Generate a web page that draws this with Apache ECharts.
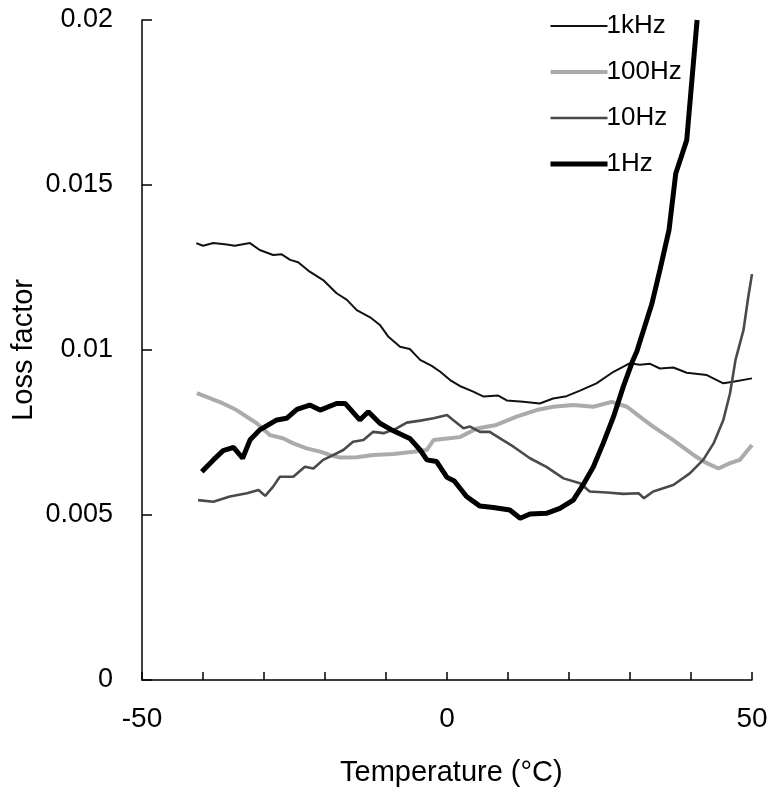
<!DOCTYPE html>
<html><head><meta charset="utf-8">
<script src="https://cdn.jsdelivr.net/npm/echarts@6/dist/echarts.min.js"></script>
<style>html,body{margin:0;padding:0;background:#fff}#c{width:772px;height:802px}</style>
</head><body><div id="c"></div>
<script>
const seriesNames = ['1kHz', '100Hz', '10Hz', '1Hz'];
const xTickLabels = [-50, 0, 50];

const t1k = [-41.1, -40, -38.3, -36.1, -34.8, -32.3, -30.7, -28.5, -27.1, -25.7, -24.4, -22.7, -20.3, -18.1, -16.4, -14.8, -12.6, -11, -9.6, -7.7, -6.1, -4.4, -2.5, -1.1, 0.5, 2.1, 4.3, 6.0, 8.4, 9.8, 12.5, 15.2, 17.4, 19.6, 21.8, 24.5, 27.3, 30, 31.6, 33.3, 34.9, 37.1, 39.3, 42.6, 45.3, 46.9, 50];
const v1k = [0.01324, 0.01316, 0.01324, 0.0132, 0.01316, 0.01324, 0.01303, 0.01288, 0.0129, 0.01273, 0.01266, 0.0124, 0.01212, 0.01172, 0.01152, 0.01121, 0.01099, 0.01076, 0.0104, 0.0101, 0.01003, 0.0097, 0.00952, 0.00934, 0.00909, 0.00891, 0.00874, 0.00859, 0.00862, 0.00847, 0.00843, 0.00838, 0.00853, 0.0086, 0.00877, 0.00899, 0.00934, 0.0096, 0.00955, 0.00958, 0.00944, 0.00947, 0.00931, 0.00924, 0.00899, 0.00904, 0.00914];

const t100 = [-41, -38.9, -36.7, -34.5, -31.2, -29, -26.8, -25.2, -23, -20.8, -19.2, -17.5, -14.8, -12.1, -8.8, -5.5, -3.3, -2.2, 0, 2.1, 4.9, 8.1, 11.4, 14.7, 17.4, 20.7, 24, 27, 29.5, 31.6, 33.8, 37.1, 40.4, 42.6, 44.5, 46.4, 48, 50];
const v100 = [0.00869, 0.00854, 0.00838, 0.00818, 0.00778, 0.00742, 0.00732, 0.00717, 0.00702, 0.00692, 0.00682, 0.00674, 0.00675, 0.00682, 0.00685, 0.00692, 0.00697, 0.00727, 0.00732, 0.00736, 0.00762, 0.00773, 0.00798, 0.00818, 0.00828, 0.00833, 0.00828, 0.00843, 0.00828, 0.00798, 0.00768, 0.00727, 0.00682, 0.00657, 0.00641, 0.00657, 0.00667, 0.00712];

const t10 = [-40.8, -38.3, -35.6, -32.8, -30.9, -29.8, -28.5, -27.4, -25.2, -23.3, -21.9, -20.3, -18.6, -17, -15.4, -13.7, -12.1, -10.4, -8.2, -6.6, -4.4, -2.2, 0, 1, 2.7, 3.8, 5.4, 7, 8.7, 10.9, 13.6, 16.3, 19.1, 21.8, 23.4, 26.2, 28.9, 31.4, 32.3, 33.8, 37.1, 39.8, 42, 43.7, 45.3, 46.4, 47.3, 48.6, 49.4, 50];
const v10 = [0.00545, 0.0054, 0.00556, 0.00566, 0.00576, 0.00558, 0.00586, 0.00616, 0.00616, 0.00646, 0.00641, 0.00667, 0.00682, 0.00697, 0.00722, 0.00727, 0.00752, 0.00748, 0.00763, 0.0078, 0.00786, 0.00793, 0.00803, 0.00788, 0.00763, 0.00768, 0.00752, 0.00752, 0.00732, 0.00707, 0.00672, 0.00646, 0.00611, 0.00596, 0.00571, 0.00568, 0.00564, 0.00566, 0.00551, 0.00571, 0.00591, 0.00626, 0.00667, 0.00717, 0.00788, 0.00869, 0.0097, 0.0106, 0.01162, 0.0123];

const t1 = [-40.2, -38.3, -36.7, -35, -33.5, -32.3, -30.7, -27.9, -26.3, -24.6, -22.5, -20.8, -18.1, -16.7, -14.3, -12.9, -11, -8.8, -6.1, -4.4, -3.3, -1.7, 0, 1.2, 3.2, 5.4, 7.6, 10.3, 12, 13.6, 16.3, 18.5, 20.7, 22.3, 24, 25.6, 27.3, 28.9, 30.5, 31.1, 33.6, 34.9, 36.4, 37.5, 39.3, 41];
const v1 = [0.00631, 0.00667, 0.00695, 0.00705, 0.00672, 0.00727, 0.00758, 0.00788, 0.00793, 0.0082, 0.00833, 0.00818, 0.00838, 0.00838, 0.00788, 0.00813, 0.00778, 0.00755, 0.00732, 0.00697, 0.00667, 0.00662, 0.00614, 0.00603, 0.00556, 0.00527, 0.00523, 0.00515, 0.0049, 0.00503, 0.00505, 0.0052, 0.00545, 0.00591, 0.00646, 0.00717, 0.00798, 0.00889, 0.0097, 0.00995, 0.01141, 0.01242, 0.01364, 0.01535, 0.01636, 0.02];

const zip = (a, b) => a.map((x, i) => [x, b[i]]);
const FONT = 'Liberation Sans, Arial, sans-serif';
const styles = {
  '1kHz':  {color: '#111', width: 2},
  '100Hz': {color: '#ababab', width: 4},
  '10Hz':  {color: '#4a4a4a', width: 2.6},
  '1Hz':   {color: '#000', width: 5}
};

const chart = echarts.init(document.getElementById('c'), null, {renderer: 'canvas'});
chart.setOption({
  animation: false,
  backgroundColor: '#ffffff',
  grid: {left: 142, right: 20, top: 20, bottom: 122, containLabel: false},
  legend: {
    orient: 'vertical', left: 543, top: 8,
    itemWidth: 57, itemHeight: 6, itemGap: 20,
    itemStyle: {opacity: 0},
    textStyle: {fontFamily: FONT, fontSize: 26, color: '#000', padding: [0, 0, 0, -6]},
    data: seriesNames.map(n => ({name: n, lineStyle: {width: styles[n].width, color: styles[n].color}}))
  },
  xAxis: {
    type: 'value', min: -50, max: 50, interval: 10,
    axisLine: {onZero: false, lineStyle: {color: '#000', width: 1.5}},
    axisTick: {inside: true, length: 8, lineStyle: {color: '#000', width: 1.5}},
    splitLine: {show: false},
    axisLabel: {
      fontFamily: FONT, fontSize: 28, color: '#000', margin: 25,
      formatter: v => (xTickLabels.indexOf(v) >= 0 ? String(v) : '')
    }
  },
  yAxis: {
    type: 'value', min: 0, max: 0.02, interval: 0.005,
    axisLine: {show: true, onZero: false, lineStyle: {color: '#000', width: 1.5}},
    axisTick: {show: true, inside: true, length: 10, lineStyle: {color: '#000', width: 1.5}},
    splitLine: {show: false},
    axisLabel: {fontFamily: FONT, fontSize: 27, color: '#000', margin: 29, formatter: v => String(+v.toFixed(3))}
  },
  graphic: [
    {type: 'text', left: 9, top: 279, rotation: Math.PI / 2,
     style: {text: 'Loss factor', font: '29px ' + FONT, fill: '#000'}},
    {type: 'text', left: 340, top: 758,
     style: {text: 'Temperature (°C)', font: '29px ' + FONT, fill: '#000'}}
  ],
  series: seriesNames.map((n, i) => ({
    name: n, type: 'line', symbol: 'none', z: [3, 2, 4, 5][i],
    lineStyle: {color: styles[n].color, width: styles[n].width},
    itemStyle: {color: styles[n].color},
    data: [zip(t1k, v1k), zip(t100, v100), zip(t10, v10), zip(t1, v1)][i]
  }))
});
</script>
</body></html>
